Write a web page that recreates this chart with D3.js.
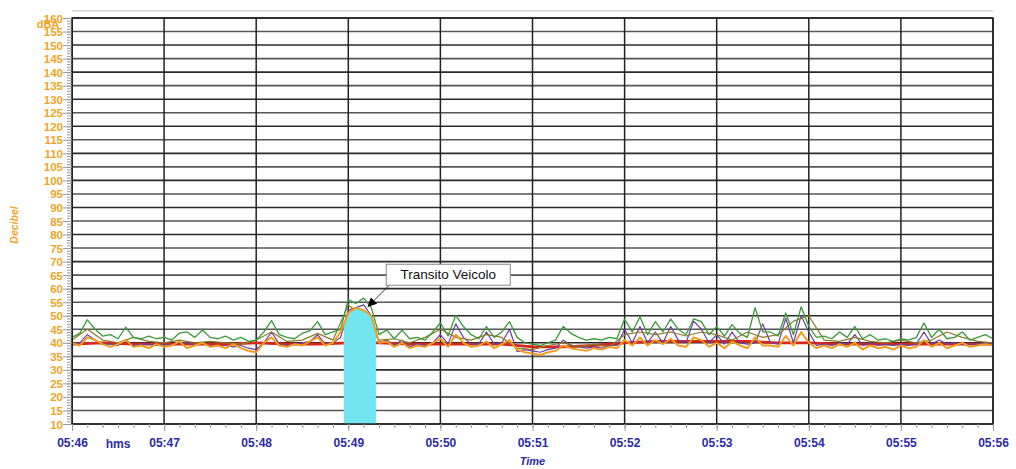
<!DOCTYPE html>
<meta charset="utf-8">
<html>
<head>
<script src="https://d3js.org/d3.v7.min.js" charset="utf-8"></script>
</head>
<style>
body { margin: 0; background: #fff; }
svg { display: block; font-family: "Liberation Sans", Arial, sans-serif; }
.ylab { fill: #f0a526; font-size: 11.5px; font-weight: bold; }
.xlab { fill: #2b2ba6; font-size: 12px; font-weight: bold; }
.series { fill: none; stroke-linejoin: round; }
</style>
<body>
<svg width="1016" height="469"></svg>
<script type="text/javascript">
// time in seconds from 05:46:00, one sample every 5 s
var step = 5;
var green = [42,43.5,48.5,45,42.5,43,41.5,45.8,42,41.5,
  42.5,41.5,42,41,43.6,44,42,44.7,42,41.5,
  42.5,41,42,40.5,41,44,48.2,43,42,41.5,
  43.5,44.5,47.8,43,44,45,56,54.5,56.5,53,
  43,44.7,41.5,44.7,41.5,42,41,44,47.3,42.5,
  50.2,46,43,41.5,46,42,44,47.8,42,40,
  39.5,39,40,41,46,43.5,42,41,41.5,41,
  42,41.5,48.8,44,49.6,43,47.8,44,48.8,45,
  43,48.8,47.8,43,46,42.5,46.7,43.5,42,53,
  44,44,42.5,51,43,53.3,46,42,42.5,41.5,
  44,42,46,41.5,43,41,41.5,40.5,41.5,41,
  42,47.3,42,45,41.5,42,44,41,42,43,
  41.5];
var orange = [40,39,42,41,39.5,38.5,39.5,41,38.5,39,
  38,39.5,38.5,39,40.5,38,39,40,38.5,39,
  38,39.5,38,37,36.5,40,42,39,38.5,39.5,
  39,40.5,42,39,40,44,51,53,52,50,
  40,40.5,38.5,40,38,39,38.5,40,41.5,38.5,
  43,40,38.5,39,40.5,38,39.5,41,37.5,36.5,
  36,35.5,36.5,37,39,38,37.5,37,38,37.5,
  38.5,38,41,39,42,39,41,39.5,41.5,39,
  38.5,42,41,38.5,40,38,40.5,39,38,42,
  39,39,38.5,42.5,39,44,40,38,39,38,
  39.5,38.5,40,37.5,39,38,38.5,37.5,39,38,
  38.5,41,38.5,40,38,39,40,38.5,39,39.5,
  39];
var purple = [39.5,40,43,41,39.5,39.5,39,41,39,39.5,
  39.5,39,39.5,39,40,40,39,40,39,39,
  39,38.5,39,38,37.5,40,44,39.5,39,39.5,
  40,40.5,43,39.5,40,42,52,53,54,50,
  40,41,39,41,38.5,39.5,39,40,43,39.5,
  47,42,39.5,39.5,44,39.5,40,45,36.7,37.5,
  37,36.5,37.5,38,41,39,38.5,38,38.5,38,
  39,39,45,40,46,40,44,40,46,41,
  40,48,45,40,43,39.5,44,40,39.5,40,
  47,40,39.5,49,40,50,44,39,39.5,39,
  40,39.5,43,39,40,39,39.5,39,39.5,39,
  39.5,44,39.5,41,39.5,40,39.5,39.5,39.5,40,
  39.5];
// olive every 10 s
var oliveStep = 10;
var olive = [41,45,41,40,42,40.5,40,41,40,40.5,
  40,39.5,41,44,40.5,41,43.5,41,54,49.5,
  41,41.5,40,42,45,42,41,43,42,38,
  37.5,39,40,38.5,39.5,38.5,43,44,43,44,
  42.5,44,43,41,44,42,43,48,50,41,
  40.5,42,40.5,40,41,40,41,44,42,40.5,
  40];
// red every 20 s
var redStep = 20;
var red = [39.5,40,39.5,39.5,39.5,39.5,40,39.5,39.5,40,
  40,39.5,39.5,39.5,39.5,38.5,38.5,39,40,40.5,
  40.5,40.5,40.5,40,40,39.5,39.5,39.5,39.5,39.5,
  39.5];

var minuteLabels = ["05:46","05:47","05:48","05:49","05:50","05:51","05:52","05:53","05:54","05:55","05:56"];
var yTicks = d3.range(10, 161, 5);
var eventStart = 177, eventEnd = 198;   // vehicle transit, seconds
var notePoint = [193, 53.5];
var noteText = "Transito Veicolo";

var svg = d3.select("svg"),
    margin = {top: 18, left: 72},
    width = 921,
    height = 406,
    g = svg.append("g").attr("transform", "translate(" + margin.left + "," + margin.top + ")");

var x = d3.scaleLinear().domain([0, 600]).range([0, width]);
var y = d3.scaleLinear().domain([10, 160]).range([height, 0]);

// faint line above the plot
svg.append("line").attr("x1", 72).attr("x2", 993).attr("y1", 11).attr("y2", 11)
  .attr("stroke", "#bbb").attr("stroke-width", 1.2);

// horizontal grid
g.selectAll(".hgrid").data(yTicks).enter().append("line")
  .attr("x1", 0).attr("x2", width)
  .attr("y1", function(d) { return y(d); }).attr("y2", function(d) { return y(d); })
  .attr("stroke", function(d) { return d % 10 == 0 ? "#2a2a2a" : "#555"; })
  .attr("stroke-width", 1.6);

// vertical grid
g.selectAll(".vgrid").data(minuteLabels).enter().append("line")
  .attr("x1", function(d, i) { return x(i * 60); }).attr("x2", function(d, i) { return x(i * 60); })
  .attr("y1", 0).attr("y2", height)
  .attr("stroke", "#222").attr("stroke-width", 1.5);

function pts(arr, s) { return arr.map(function(v, i) { return [i * s, v]; }); }

var line = d3.line().x(function(d) { return x(d[0]); }).y(function(d) { return y(d[1]); });

g.append("path").datum(pts(red, redStep)).attr("class", "series")
  .attr("stroke", "#d8261a").attr("stroke-width", 2.8).attr("d", line);
g.append("path").datum(pts(purple, step)).attr("class", "series")
  .attr("stroke", "#6b3fa0").attr("stroke-width", 1.2).attr("d", line);
g.append("path").datum(pts(olive, oliveStep)).attr("class", "series")
  .attr("stroke", "#8c7a2a").attr("stroke-width", 1.2).attr("d", line);

// cyan event fill
svg.append("clipPath").attr("id", "ev").append("rect")
  .attr("x", x(eventStart)).attr("y", 0).attr("width", x(eventEnd) - x(eventStart)).attr("height", height);
g.append("path")
  .datum(pts(orange, step))
  .attr("clip-path", "url(#ev)")
  .attr("fill", "#72e6f0")
  .attr("d", d3.area().x(function(d) { return x(d[0]); }).y0(height).y1(function(d) { return y(d[1]); }));

g.append("path").datum(pts(green, step)).attr("class", "series")
  .attr("stroke", "#3a9a3a").attr("stroke-width", 1.3).attr("d", line);
g.append("path").datum(pts(orange, step)).attr("class", "series")
  .attr("stroke", "#f39a1c").attr("stroke-width", 1.9).attr("d", line);

// frame
g.append("rect").attr("width", width).attr("height", height)
  .attr("fill", "none").attr("stroke", "#222").attr("stroke-width", 1.5);

// y axis
var yAxis = g.append("g").call(d3.axisLeft(y).tickValues(yTicks).tickSize(9).tickFormat(d3.format("d")));
yAxis.select(".domain").attr("stroke", "#222");
yAxis.selectAll(".tick line").attr("stroke", "#999");
yAxis.selectAll("text").attr("class", "ylab").attr("x", -9).attr("dy", "0.35em");
g.append("g").call(d3.axisLeft(y).tickValues(d3.range(10, 161, 1)).tickSize(5).tickFormat(""))
  .call(function(s) { s.select(".domain").remove(); s.selectAll("line").attr("stroke", "#999"); });

// x axis
var xAxis = g.append("g").attr("transform", "translate(0," + height + ")")
  .call(d3.axisBottom(x).tickValues(d3.range(0, 601, 60)).tickSize(7)
    .tickFormat(function(d, i) { return minuteLabels[i]; }));
xAxis.select(".domain").remove();
xAxis.selectAll(".tick line").attr("stroke", "#999");
xAxis.selectAll("text").attr("class", "xlab").attr("y", 14);
g.append("g").attr("transform", "translate(0," + height + ")")
  .call(d3.axisBottom(x).tickValues(d3.range(0, 601, 10)).tickSize(4).tickFormat(""))
  .call(function(s) { s.select(".domain").remove(); s.selectAll("line").attr("stroke", "#999"); });

g.append("text").attr("class", "xlab").attr("x", x(30)).attr("y", height + 24)
  .attr("text-anchor", "middle").text("hms");
g.append("text").attr("class", "xlab").attr("x", x(300)).attr("y", height + 41)
  .attr("text-anchor", "middle").style("font-style", "italic").style("font-size", "11px").text("Time");

svg.append("text").attr("class", "ylab")
  .attr("transform", "translate(18,225) rotate(-90)").attr("text-anchor", "middle")
  .style("font-style", "italic").style("font-size", "10.5px").text("Decibel");
svg.append("text").attr("class", "ylab").attr("x", 48).attr("y", 28)
  .attr("text-anchor", "middle").style("font-size", "11px").text("dBA");

// annotation
var px = x(notePoint[0]), py = y(notePoint[1]);
svg.append("defs").append("marker").attr("id", "arr")
  .attr("viewBox", "0 0 10 10").attr("refX", 9).attr("refY", 5)
  .attr("markerWidth", 9).attr("markerHeight", 9).attr("orient", "auto")
  .append("path").attr("d", "M0,0L10,5L0,10z").attr("fill", "#000");
g.append("line").attr("x1", px + 22).attr("y1", py - 22).attr("x2", px).attr("y2", py)
  .attr("stroke", "#333").attr("stroke-width", 1).attr("marker-end", "url(#arr)");
var note = g.append("g").attr("transform", "translate(" + (px + 18) + "," + (py - 42) + ")");
note.append("rect").attr("width", 124).attr("height", 21)
  .attr("fill", "#fff").attr("stroke", "#888").attr("stroke-width", 1);
note.append("text").attr("x", 62).attr("y", 15).attr("text-anchor", "middle")
  .style("font-size", "13.5px").attr("fill", "#111").text(noteText);
</script>
</body>
</html>
